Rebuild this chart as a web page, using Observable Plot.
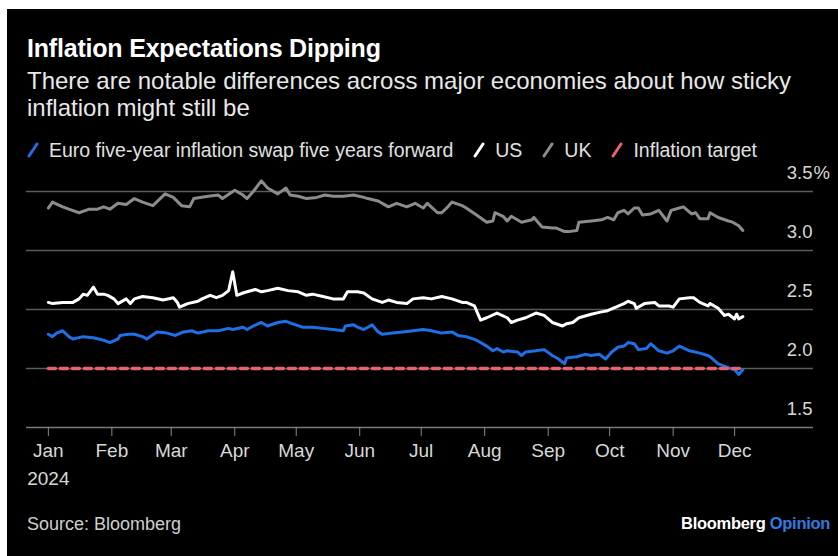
<!DOCTYPE html>
<html><head><meta charset="utf-8">
<script src="https://cdn.jsdelivr.net/npm/d3@7"></script>
<script src="https://cdn.jsdelivr.net/npm/@observablehq/plot@0.6"></script>
<style>
html,body{margin:0;padding:0;background:#fff;width:838px;height:556px;overflow:hidden;font-family:"Liberation Sans",Arial,sans-serif;}
#panel{position:absolute;left:7px;top:9px;width:831px;height:547px;background:#000;}
.abs{position:absolute;white-space:nowrap;}
#title{left:27px;top:34px;color:#fff;font-weight:bold;font-size:25px;line-height:28px;letter-spacing:-0.2px;}
#subtitle{left:27px;top:67px;color:#e8e8e8;font-size:24px;line-height:27px;}
#legend{left:27px;top:139px;color:#e0e0e0;font-size:19.5px;line-height:22px;display:flex;align-items:center;}
#legend .item{display:flex;align-items:center;margin-right:20px;}
#legend svg{margin-right:10px;}
#source{left:27px;top:514px;color:#cfcfcf;font-size:18px;line-height:20px;}
#brand{right:8px;top:513px;font-size:16.5px;line-height:20px;font-weight:bold;color:#fff;letter-spacing:-0.3px;}
#brand span{color:#2f7be0;}
#chart{position:absolute;left:0;top:155px;}
</style></head>
<body>
<div id="panel"></div>
<div id="title" class="abs">Inflation Expectations Dipping</div>
<div id="subtitle" class="abs">There are notable differences across major economies about how sticky<br>inflation might still be</div>
<div id="legend" class="abs"></div>
<div id="chart"></div>
<div id="source" class="abs">Source: Bloomberg</div>
<div id="brand" class="abs">Bloomberg <span>Opinion</span></div>
<script>
const seriesNames = ["Euro five-year inflation swap five years forward", "US", "UK", "Inflation target"];
const seriesColors = ["#1f6fe6", "#ffffff", "#8c8c8c", "#e8626c"];
const yTicks = [1.5, 2.0, 2.5, 3.0, 3.5];
const targetValue = 2.0;
const targetDates = ["2024-01-01", "2024-12-05"];

const euroData = [
["2024-01-01",2.29],["2024-01-03",2.27],["2024-01-05",2.30],["2024-01-08",2.32],["2024-01-11",2.27],["2024-01-13",2.25],
["2024-01-18",2.27],["2024-01-23",2.26],["2024-01-28",2.24],["2024-01-31",2.22],["2024-02-04",2.25],["2024-02-05",2.28],
["2024-02-09",2.29],["2024-02-12",2.29],["2024-02-16",2.27],["2024-02-18",2.25],["2024-02-23",2.31],["2024-02-28",2.30],
["2024-03-03",2.28],["2024-03-07",2.31],["2024-03-11",2.32],["2024-03-14",2.30],["2024-03-19",2.32],["2024-03-24",2.32],
["2024-03-29",2.34],["2024-03-31",2.33],["2024-04-05",2.35],["2024-04-07",2.33],["2024-04-10",2.36],["2024-04-14",2.39],
["2024-04-17",2.36],["2024-04-22",2.39],["2024-04-26",2.40],["2024-04-29",2.38],["2024-05-04",2.35],["2024-05-09",2.35],
["2024-05-14",2.34],["2024-05-19",2.33],["2024-05-24",2.32],["2024-05-25",2.36],["2024-05-29",2.37],["2024-05-31",2.35],
["2024-06-03",2.33],["2024-06-05",2.35],["2024-06-07",2.37],["2024-06-10",2.31],["2024-06-12",2.29],["2024-06-17",2.30],
["2024-06-22",2.31],["2024-06-27",2.32],["2024-07-02",2.33],["2024-07-06",2.32],["2024-07-11",2.30],["2024-07-16",2.31],
["2024-07-19",2.28],["2024-07-23",2.27],["2024-07-28",2.24],["2024-08-02",2.19],["2024-08-05",2.15],["2024-08-07",2.17],
["2024-08-10",2.14],["2024-08-12",2.15],["2024-08-17",2.14],["2024-08-19",2.11],["2024-08-21",2.14],["2024-08-26",2.15],
["2024-08-30",2.16],["2024-09-03",2.11],["2024-09-06",2.08],["2024-09-09",2.04],["2024-09-10",2.09],["2024-09-15",2.10],
["2024-09-19",2.12],["2024-09-22",2.11],["2024-09-26",2.12],["2024-09-29",2.08],["2024-10-02",2.14],["2024-10-05",2.18],
["2024-10-08",2.19],["2024-10-10",2.22],["2024-10-13",2.21],["2024-10-15",2.16],["2024-10-19",2.17],["2024-10-21",2.21],
["2024-10-25",2.15],["2024-10-29",2.13],["2024-11-01",2.15],["2024-11-04",2.19],["2024-11-09",2.15],["2024-11-14",2.13],
["2024-11-18",2.11],["2024-11-19",2.10],["2024-11-23",2.04],["2024-11-26",2.02],["2024-11-29",2.00],["2024-12-01",1.99],
["2024-12-02",1.97],["2024-12-03",1.95],["2024-12-05",1.99]
];

const usData = [
["2024-01-01",2.56],["2024-01-03",2.55],["2024-01-08",2.56],["2024-01-13",2.56],["2024-01-16",2.59],["2024-01-18",2.63],
["2024-01-20",2.62],["2024-01-23",2.69],["2024-01-25",2.63],["2024-01-28",2.63],["2024-01-30",2.62],["2024-02-02",2.59],
["2024-02-04",2.55],["2024-02-08",2.59],["2024-02-10",2.55],["2024-02-12",2.59],["2024-02-16",2.61],["2024-02-21",2.60],
["2024-02-26",2.58],["2024-03-02",2.60],["2024-03-04",2.56],["2024-03-05",2.52],["2024-03-09",2.55],["2024-03-14",2.57],
["2024-03-16",2.59],["2024-03-20",2.62],["2024-03-23",2.60],["2024-03-26",2.62],["2024-03-29",2.66],["2024-03-31",2.82],
["2024-04-02",2.62],["2024-04-05",2.64],["2024-04-07",2.65],["2024-04-11",2.67],["2024-04-14",2.65],["2024-04-17",2.66],
["2024-04-22",2.68],["2024-04-27",2.66],["2024-05-02",2.65],["2024-05-06",2.62],["2024-05-09",2.63],["2024-05-14",2.61],
["2024-05-19",2.59],["2024-05-24",2.59],["2024-05-26",2.65],["2024-05-31",2.65],["2024-06-03",2.64],["2024-06-07",2.59],
["2024-06-12",2.56],["2024-06-15",2.58],["2024-06-19",2.56],["2024-06-24",2.55],["2024-06-27",2.59],["2024-07-02",2.60],
["2024-07-06",2.59],["2024-07-11",2.61],["2024-07-16",2.59],["2024-07-21",2.56],["2024-07-23",2.56],["2024-07-27",2.53],
["2024-07-30",2.41],["2024-08-02",2.43],["2024-08-07",2.47],["2024-08-12",2.43],["2024-08-14",2.39],["2024-08-17",2.41],
["2024-08-21",2.43],["2024-08-26",2.47],["2024-08-30",2.45],["2024-09-03",2.39],["2024-09-08",2.36],["2024-09-10",2.38],
["2024-09-13",2.39],["2024-09-16",2.43],["2024-09-22",2.46],["2024-09-27",2.48],["2024-09-30",2.49],["2024-10-04",2.52],
["2024-10-08",2.55],["2024-10-10",2.57],["2024-10-13",2.55],["2024-10-14",2.51],["2024-10-18",2.55],["2024-10-23",2.56],
["2024-10-25",2.53],["2024-10-30",2.53],["2024-11-01",2.52],["2024-11-04",2.59],["2024-11-09",2.60],["2024-11-11",2.60],
["2024-11-14",2.56],["2024-11-18",2.53],["2024-11-19",2.55],["2024-11-23",2.51],["2024-11-26",2.45],["2024-11-28",2.46],
["2024-12-01",2.42],["2024-12-02",2.46],["2024-12-03",2.42],["2024-12-05",2.44]
];

const ukData = [
["2024-01-01",3.36],["2024-01-03",3.41],["2024-01-08",3.37],["2024-01-11",3.35],["2024-01-16",3.32],["2024-01-21",3.35],
["2024-01-25",3.35],["2024-01-28",3.37],["2024-01-31",3.35],["2024-02-04",3.40],["2024-02-08",3.39],["2024-02-12",3.44],
["2024-02-16",3.41],["2024-02-21",3.38],["2024-02-27",3.48],["2024-03-02",3.45],["2024-03-06",3.38],["2024-03-10",3.37],
["2024-03-12",3.44],["2024-03-19",3.46],["2024-03-24",3.47],["2024-03-26",3.44],["2024-04-01",3.51],["2024-04-05",3.47],
["2024-04-07",3.44],["2024-04-10",3.50],["2024-04-14",3.59],["2024-04-17",3.53],["2024-04-22",3.48],["2024-04-26",3.53],
["2024-04-28",3.47],["2024-05-02",3.46],["2024-05-06",3.44],["2024-05-11",3.45],["2024-05-15",3.47],["2024-05-19",3.46],
["2024-05-24",3.46],["2024-05-29",3.47],["2024-06-03",3.45],["2024-06-05",3.44],["2024-06-10",3.42],["2024-06-15",3.37],
["2024-06-19",3.40],["2024-06-24",3.37],["2024-06-28",3.40],["2024-07-02",3.36],["2024-07-04",3.40],["2024-07-09",3.32],
["2024-07-11",3.32],["2024-07-14",3.37],["2024-07-16",3.41],["2024-07-21",3.38],["2024-07-23",3.36],["2024-07-28",3.30],
["2024-08-02",3.24],["2024-08-05",3.25],["2024-08-06",3.32],["2024-08-10",3.29],["2024-08-12",3.25],["2024-08-14",3.29],
["2024-08-19",3.24],["2024-08-24",3.26],["2024-08-25",3.28],["2024-08-29",3.20],["2024-09-03",3.19],["2024-09-05",3.19],
["2024-09-09",3.16],["2024-09-11",3.16],["2024-09-15",3.17],["2024-09-16",3.24],["2024-09-22",3.25],["2024-09-27",3.26],
["2024-09-30",3.28],["2024-10-03",3.26],["2024-10-05",3.32],["2024-10-08",3.34],["2024-10-10",3.31],["2024-10-13",3.36],
["2024-10-15",3.36],["2024-10-17",3.30],["2024-10-21",3.31],["2024-10-25",3.34],["2024-10-29",3.25],["2024-10-31",3.34],
["2024-11-04",3.36],["2024-11-06",3.37],["2024-11-10",3.31],["2024-11-12",3.32],["2024-11-14",3.27],["2024-11-18",3.27],
["2024-11-19",3.32],["2024-11-23",3.28],["2024-11-28",3.25],["2024-11-30",3.24],["2024-12-03",3.21],["2024-12-05",3.17]
];

const parse = d3.utcParse("%Y-%m-%d");
const toRows = arr => arr.map(([d, v]) => ({date: parse(d), value: v}));
const euro = toRows(euroData), us = toRows(usData), uk = toRows(ukData);
const target = targetDates.map(d => ({date: parse(d), value: targetValue}));
const monthTicks = d3.utcMonths(parse("2024-01-01"), parse("2024-12-02"));
const xEnd = new Date("2025-01-08T12:00Z");

// legend
const legend = document.getElementById("legend");
seriesNames.forEach((name, i) => {
  const item = document.createElement("div");
  item.className = "item";
  item.innerHTML = `<svg width="12" height="16"><line x1="2" y1="14" x2="10" y2="2" stroke="${seriesColors[i]}" stroke-width="3" stroke-linecap="round"/></svg><span>${name}</span>`;
  legend.appendChild(item);
});

const chart = Plot.plot({
  width: 838,
  height: 340,
  marginLeft: 26,
  marginRight: 25,
  marginTop: 36,
  marginBottom: 68,
  style: {background: "transparent", color: "#d0d0d0", fontFamily: "Liberation Sans, Arial, sans-serif", fontSize: "19px", overflow: "visible"},
  x: {type: "utc", domain: [new Date("2023-12-21T08:00Z"), xEnd], axis: null},
  y: {domain: [1.5, 3.5], axis: null},
  marks: [
    Plot.ruleY(yTicks.slice(1), {stroke: "#5c5c5c", strokeWidth: 1.3}),
    Plot.ruleY([yTicks[0]], {stroke: "#7a7a7a", strokeWidth: 1.3}),
    Plot.axisX({ticks: monthTicks, tickSize: 9, tickPadding: 7, tickFormat: d3.utcFormat("%b"), stroke: "#8a8a8a", fill: "#d8d8d8", fontSize: 19, label: null}),
    Plot.text([parse("2024-01-01")], {x: d => d, y: [yTicks[0]], text: () => "2024", dy: 51, fill: "#d8d8d8", fontSize: 19}),
    Plot.text(yTicks, {x: () => xEnd, y: d => d, text: d => d.toFixed(1), textAnchor: "end", dy: -18, dx: -1, fill: "#d8d8d8", fontSize: 18.5}),
    Plot.text([yTicks[yTicks.length - 1]], {x: () => xEnd, y: d => d, text: () => "%", textAnchor: "start", dy: -18, fill: "#d8d8d8", fontSize: 18.5}),
    Plot.lineY(uk, {x: "date", y: "value", stroke: seriesColors[2], strokeWidth: 3}),
    Plot.lineY(us, {x: "date", y: "value", stroke: seriesColors[1], strokeWidth: 3}),
    Plot.lineY(euro, {x: "date", y: "value", stroke: seriesColors[0], strokeWidth: 3}),
    Plot.lineY(target, {x: "date", y: "value", stroke: seriesColors[3], strokeWidth: 3.5, strokeDasharray: "7,5"})
  ]
});
document.getElementById("chart").appendChild(chart);
</script>
</body></html>
